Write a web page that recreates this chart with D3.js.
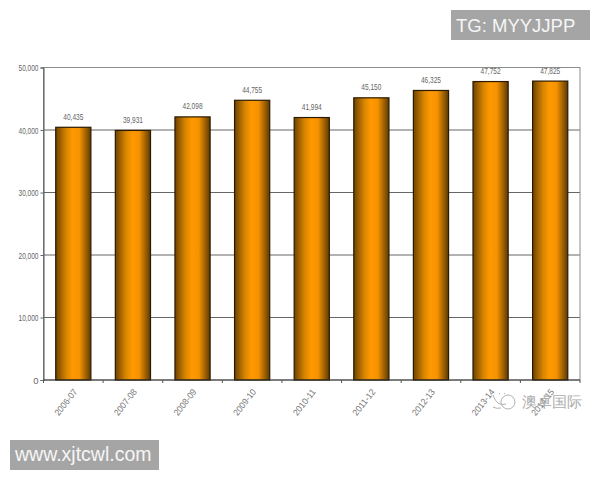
<!DOCTYPE html>
<html>
<head>
<meta charset="utf-8">
<script src="https://cdn.jsdelivr.net/npm/d3@7"></script>
<style>
body { margin: 0; background: #fff; }
text { font-family: "Liberation Sans", Arial, sans-serif; }
</style>
</head>
<body>
<div id="chart"></div>
<script>
const years = ["2006-07", "2007-08", "2008-09", "2009-10", "2010-11", "2011-12", "2012-13", "2013-14", "2014-15"];
const values = [40435, 39931, 42098, 44755, 41994, 45150, 46325, 47752, 47825];
const valueLabels = ["40,435", "39,931", "42,098", "44,755", "41,994", "45,150", "46,325", "47,752", "47,825"];
const yTicks = [0, 10000, 20000, 30000, 40000, 50000];

const width = 600;
const height = 480;
const margin = { top: 67.5, left: 43.5, bottom: 100, right: 20 };
const iwidth = width - margin.left - margin.right;
const iheight = height - margin.top - margin.bottom;

const svg = d3.select("#chart").append("svg")
    .attr("width", width)
    .attr("height", height)
    .style("display", "block");

const grad = svg.append("defs").append("linearGradient").attr("id", "barFill");
grad.append("stop").attr("offset", "0%").attr("stop-color", "#6e4300");
grad.append("stop").attr("offset", "30%").attr("stop-color", "#d88500");
grad.append("stop").attr("offset", "48%").attr("stop-color", "#ff9900");
grad.append("stop").attr("offset", "68%").attr("stop-color", "#f59200");
grad.append("stop").attr("offset", "100%").attr("stop-color", "#5c3a05");

const g = svg.append("g").attr("transform", `translate(${margin.left},${margin.top})`);

const y = d3.scaleLinear().domain([0, 50000]).range([iheight, 0]);
const x = d3.scaleBand().domain(years).range([0, iwidth]).paddingInner(0.41).paddingOuter(0.205);

// grid lines behind the bars
g.append("g").selectAll("line").data(yTicks.slice(1)).enter().append("line")
    .attr("x1", 0).attr("x2", iwidth)
    .attr("y1", d => y(d)).attr("y2", d => y(d))
    .attr("stroke", "#666").attr("stroke-width", 1);

// plot frame
g.append("rect")
    .attr("width", iwidth).attr("height", iheight)
    .attr("fill", "none").attr("stroke", "#8c8c8c");

g.selectAll("rect.bar").data(values).enter().append("rect")
    .attr("class", "bar")
    .attr("x", (d, i) => x(years[i]))
    .attr("y", d => y(d))
    .attr("width", x.bandwidth())
    .attr("height", d => iheight - y(d))
    .attr("fill", "url(#barFill)")
    .attr("stroke", "#2b1a00")
    .attr("stroke-width", 1.2);

g.selectAll("text.val").data(values).enter().append("text")
    .attr("class", "val")
    .attr("x", (d, i) => x(years[i]) + x.bandwidth() / 2)
    .attr("y", d => y(d) - 7.5)
    .attr("text-anchor", "middle")
    .attr("font-size", 9.5)
    .attr("fill", "#666")
    .attr("textLength", 20)
    .attr("lengthAdjust", "spacingAndGlyphs")
    .text((d, i) => valueLabels[i]);

const yAxis = g.append("g")
    .call(d3.axisLeft(y).tickValues(yTicks).tickFormat(d3.format(",")).tickSize(3).tickPadding(2));
yAxis.select(".domain").attr("stroke", "#555");
yAxis.selectAll(".tick line").attr("stroke", "#666");
yAxis.selectAll("text")
    .attr("font-size", 9.5)
    .attr("fill", "#666")
    .filter(d => d > 0)
    .attr("textLength", 20)
    .attr("lengthAdjust", "spacingAndGlyphs");

// category axis ticks sit between the bars
const step = x.step();
const xAxis = g.append("g").attr("transform", `translate(0,${iheight})`);
xAxis.append("line").attr("x1", 0).attr("x2", iwidth).attr("stroke", "#333");
xAxis.selectAll("line.tick").data(d3.range(years.length + 1)).enter().append("line")
    .attr("class", "tick")
    .attr("x1", i => i * step).attr("x2", i => i * step)
    .attr("y1", 0).attr("y2", 3)
    .attr("stroke", "#555");
xAxis.selectAll("text").data(years).enter().append("text")
    .attr("transform", d => `translate(${x(d) + x.bandwidth() / 2 + 2},10) rotate(-52)`)
    .attr("text-anchor", "end")
    .attr("dy", "0.35em")
    .attr("font-size", 9)
    .attr("fill", "#777")
    .attr("textLength", 31)
    .attr("lengthAdjust", "spacingAndGlyphs")
    .text(d => d);

// watermark boxes
function stamp(bx, by, bw, bh, label, tx, ty, size) {
    svg.append("rect").attr("x", bx).attr("y", by).attr("width", bw).attr("height", bh).attr("fill", "#a5a5a5");
    svg.append("text").attr("x", tx).attr("y", ty).attr("font-size", size).attr("fill", "#f6f6f6").text(label);
}
stamp(451, 10, 139, 30, "TG: MYYJJPP", 456, 32, 18.5);
stamp(10, 440, 149, 30, "www.xjtcwl.com", 15, 461, 19.5);

// wechat style logo next to the name
const logo = svg.append("g")
    .attr("transform", "translate(508,402)")
    .attr("fill", "none")
    .attr("stroke", "#a8a8a8")
    .attr("stroke-width", 0.9);
logo.append("circle").attr("r", 7);
logo.append("path").attr("d", "M-15,-7 Q-11,5 -2,2 M-7,6 Q-12,7 -15,5 M-9,-9 L-8,-8 M-4,-9 L-3,-8");

svg.append("text")
    .attr("x", 522).attr("y", 407)
    .attr("font-family", "Noto Sans CJK SC")
    .attr("font-size", 14.5)
    .attr("fill", "#adadad")
    .text("澳卓国际");
</script>
</body>
</html>
